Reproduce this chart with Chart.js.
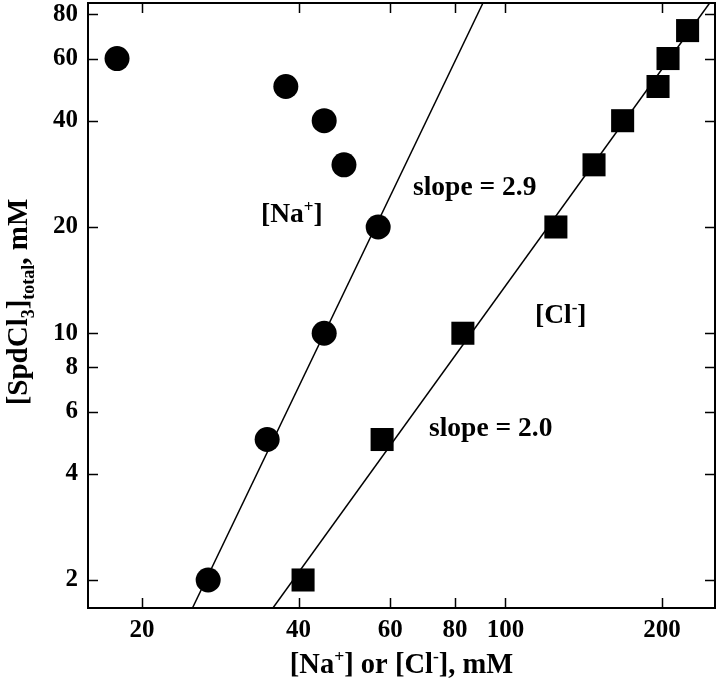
<!DOCTYPE html>
<html>
<head>
<meta charset="utf-8">
<script src="https://cdn.jsdelivr.net/npm/chart.js@4.4.1/dist/chart.umd.min.js"></script>
<style>
    html, body { margin: 0; padding: 0; background: #ffffff; }
    #caixa { width: 720px; height: 683px; }
</style>
</head>
<body>
<div id="caixa"><canvas id="grafico"></canvas></div>
<script>
// Dados (mM)
const naX = [17.9, 37.8, 44.8, 48.9, 56.9, 44.8, 34.8, 26.8];
const naY = [60, 50, 40, 30, 20, 10, 5, 2];
const clX = [40.8, 57.9, 82.8, 125, 148, 168, 196.5, 205.4, 224];
const clY = [2, 5, 10, 20, 30, 40, 50, 60, 72];

// Retas de ajuste (extremos nas bordas do gráfico)
const retaNaX = [25.0, 90.5];
const retaNaY = [1.666, 86.2];
const retaClX = [35.7, 247];
const retaClY = [1.666, 86.2];

// Marcas dos eixos
const ticksX = [20, 40, 60, 80, 100, 200];
const ticksY = [2, 4, 6, 8, 10, 20, 40, 60, 80];

const FONTE = '"Liberation Serif", "Times New Roman", serif';

// Escreve texto com partes sobrescritas / subscritas
function escreverRico(ctx, partes, x, y, tamanho) {
    let cx = x;
    partes.forEach((p) => {
        const t = p.s ? tamanho * 0.62 : tamanho;
        ctx.font = `bold ${t}px ${FONTE}`;
        let dy = 0;
        if (p.s === "sup") dy = -tamanho * 0.38;
        if (p.s === "sub") dy = tamanho * 0.25;
        ctx.fillText(p.t, cx, y + dy);
        cx += ctx.measureText(p.t).width;
    });
    return cx - x;
}

function larguraRica(ctx, partes, tamanho) {
    let w = 0;
    partes.forEach((p) => {
        const t = p.s ? tamanho * 0.62 : tamanho;
        ctx.font = `bold ${t}px ${FONTE}`;
        w += ctx.measureText(p.t).width;
    });
    return w;
}

// Tira o espaço extra que o Chart.js reserva para os rótulos das pontas
function semPadding(s) {
    s.paddingTop = 0;
    s.paddingBottom = 0;
    s.paddingLeft = 0;
    s.paddingRight = 0;
}

// Moldura, marcas internas e textos
const molduraPlugin = {
    id: "moldura",
    afterDraw(chart) {
        const { ctx, chartArea: a, scales } = chart;
        ctx.save();
        ctx.strokeStyle = "#000";
        ctx.fillStyle = "#000";
        ctx.lineWidth = 2;
        ctx.strokeRect(a.left, a.top, a.right - a.left, a.bottom - a.top);

        ctx.lineWidth = 1.5;
        ctx.beginPath();
        ticksX.forEach((v) => {
            const px = Math.round(scales.x.getPixelForValue(v)) + 0.5;
            ctx.moveTo(px, a.bottom); ctx.lineTo(px, a.bottom - 10);
            ctx.moveTo(px, a.top); ctx.lineTo(px, a.top + 10);
        });
        ticksY.forEach((v) => {
            const py = Math.round(scales.y.getPixelForValue(v)) + 0.5;
            ctx.moveTo(a.left, py); ctx.lineTo(a.left + 10, py);
            ctx.moveTo(a.right, py); ctx.lineTo(a.right - 10, py);
        });
        ctx.stroke();

        // Anotações dentro do gráfico
        ctx.textBaseline = "alphabetic";
        ctx.textAlign = "left";
        escreverRico(ctx, [{ t: "[Na" }, { t: "+", s: "sup" }, { t: "]" }], 261, 222, 27.5);
        escreverRico(ctx, [{ t: "slope = 2.9" }], 413, 195, 27.5);
        escreverRico(ctx, [{ t: "[Cl" }, { t: "-", s: "sup" }, { t: "]" }], 535, 323, 27.5);
        escreverRico(ctx, [{ t: "slope = 2.0" }], 429, 436, 27.5);

        // Título do eixo X
        const tituloX = [{ t: "[Na" }, { t: "+", s: "sup" }, { t: "] or [Cl" }, { t: "-", s: "sup" }, { t: "], mM" }];
        const wX = larguraRica(ctx, tituloX, 28.5);
        escreverRico(ctx, tituloX, (a.left + a.right) / 2 - wX / 2, 673, 28.5);

        // Título do eixo Y (rotacionado)
        const tituloY = [{ t: "[SpdCl" }, { t: "3", s: "sub" }, { t: "]" }, { t: "total", s: "sub" }, { t: ", mM" }];
        const wY = larguraRica(ctx, tituloY, 29);
        ctx.translate(27, 302);
        ctx.rotate(-Math.PI / 2);
        escreverRico(ctx, tituloY, -wY / 2, 0, 29);
        ctx.restore();
    },
};

const ctxGrafico = document.getElementById("grafico").getContext("2d");
new Chart(ctxGrafico, {
    type: "scatter",
    data: {
        datasets: [
            {
                label: "[Na+]",
                data: naX.map((x, i) => ({ x: x, y: naY[i] })),
                pointStyle: "circle",
                pointRadius: 12.5,
                backgroundColor: "#000",
                borderColor: "#000",
                borderWidth: 0,
            },
            {
                label: "[Cl-]",
                data: clX.map((x, i) => ({ x: x, y: clY[i] })),
                pointStyle: "rect",
                pointRadius: 16.3,
                backgroundColor: "#000",
                borderColor: "#000",
                borderWidth: 0,
            },
            {
                label: "ajuste Na",
                data: retaNaX.map((x, i) => ({ x: x, y: retaNaY[i] })),
                showLine: true,
                pointRadius: 0,
                borderColor: "#000",
                borderWidth: 1.5,
            },
            {
                label: "ajuste Cl",
                data: retaClX.map((x, i) => ({ x: x, y: retaClY[i] })),
                showLine: true,
                pointRadius: 0,
                borderColor: "#000",
                borderWidth: 1.5,
            },
        ],
    },
    options: {
        responsive: true,
        maintainAspectRatio: false,
        animation: false,
        layout: { autoPadding: false, padding: { left: 0, top: 3, right: 5, bottom: 0 } },
        plugins: {
            legend: { display: false },
            tooltip: { enabled: false },
        },
        scales: {
            x: {
                type: "logarithmic",
                min: 15.74,
                max: 252.9,
                grid: { display: false, drawTicks: false },
                border: { display: false },
                afterBuildTicks: (s) => { s.ticks = ticksX.map((v) => ({ value: v })); },
                afterFit: (s) => { s.height = 75; semPadding(s); },
                ticks: {
                    color: "#000",
                    padding: 8,
                    maxRotation: 0,
                    autoSkip: false,
                    font: { family: FONTE, size: 25, weight: "bold" },
                    callback: (v) => String(v),
                },
            },
            y: {
                type: "logarithmic",
                min: 1.666,
                max: 86.2,
                grid: { display: false, drawTicks: false },
                border: { display: false },
                afterBuildTicks: (s) => { s.ticks = ticksY.map((v) => ({ value: v })); },
                afterFit: (s) => { s.width = 88; semPadding(s); },
                ticks: {
                    color: "#000",
                    padding: 10,
                    autoSkip: false,
                    font: { family: FONTE, size: 25, weight: "bold" },
                    callback: (v) => String(v),
                },
            },
        },
    },
    plugins: [molduraPlugin],
});
</script>
</body>
</html>
